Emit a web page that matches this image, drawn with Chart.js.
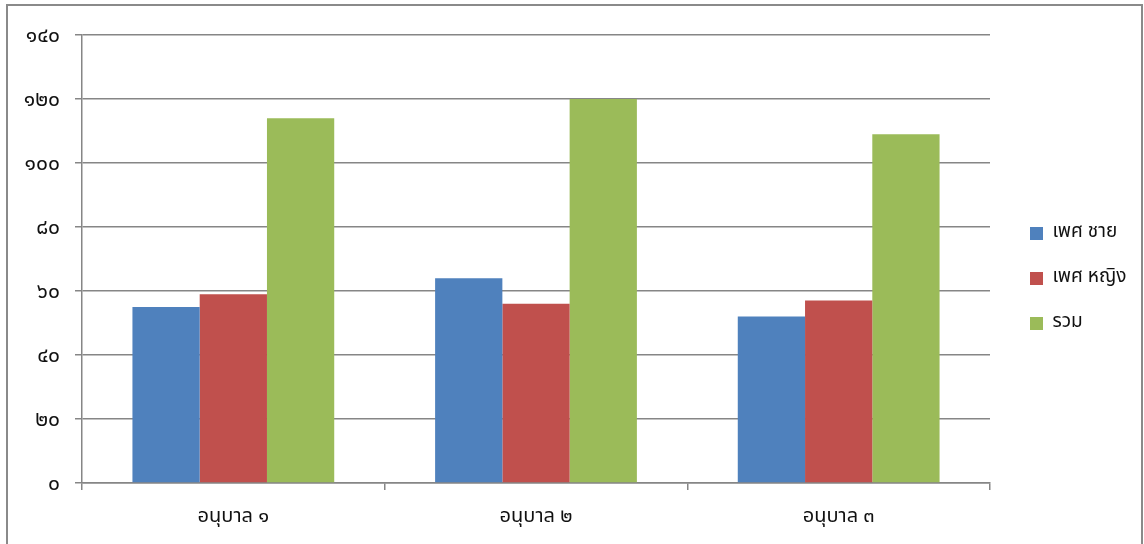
<!DOCTYPE html>
<html>
<head>
<meta charset="utf-8">
<script src="https://cdn.jsdelivr.net/npm/chart.js@4.4.0/dist/chart.umd.min.js"></script>
<style>
  html, body { margin: 0; padding: 0; background: #fff; overflow: hidden; }
  #frame {
    position: absolute; left: 6px; top: 4px; width: 1133px; height: 600px;
    border: 2px solid #8a8a8a;
  }
  #wrap { position: absolute; left: 0; top: 0; width: 1144px; height: 544px; }
</style>
</head>
<body>
<div id="frame"></div>
<div id="wrap"><canvas id="chart"></canvas></div>
<script>
// data
const categories = ['อนุบาล ๑', 'อนุบาล ๒', 'อนุบาล ๓'];
const seriesNames = ['เพศ ชาย', 'เพศ หญิง', 'รวม'];
const maleValues = [55, 64, 52];
const femaleValues = [59, 56, 57];
const totalValues = [114, 120, 109];
const yTickLabels = ['๐', '๒๐', '๔๐', '๖๐', '๘๐', '๑๐๐', '๑๒๐', '๑๔๐'];

const fontFamily = "'Noto Sans Thai', 'Noto Sans', 'DejaVu Sans', sans-serif";

// fixed legend width so the plot ends at the same x, then nudge the legend box
const legendPlace = {
    id: 'legendPlace',
    beforeInit(chart) {
        const fit = chart.legend.fit;
        chart.legend.fit = function() {
            fit.bind(chart.legend)();
            this.width = 154;
        };
    },
    afterLayout(chart) {
        const lg = chart.legend;
        lg.left += 14; lg.right += 14;
        lg.top -= 11; lg.bottom -= 11;
    }
};

document.addEventListener('DOMContentLoaded', function() {
    const ctx = document.getElementById('chart').getContext('2d');
    const chart = new Chart(ctx, {
        type: 'bar',
        data: {
            labels: categories,
            datasets: [
                { label: seriesNames[0], data: maleValues, backgroundColor: '#4F81BD' },
                { label: seriesNames[1], data: femaleValues, backgroundColor: '#C0504D' },
                { label: seriesNames[2], data: totalValues, backgroundColor: '#9BBB59' }
            ]
        },
        options: {
            responsive: true,
            maintainAspectRatio: false,
            animation: false,
            categoryPercentage: 0.6667,
            barPercentage: 1.0,
            layout: { padding: { top: 35, left: 0, right: 0, bottom: 0 } },
            plugins: {
                tooltip: { enabled: false },
                legend: {
                    position: 'right',
                    align: 'center',
                    labels: {
                        boxWidth: 13,
                        boxHeight: 13,
                        padding: 26,
                        color: '#111',
                        font: { family: fontFamily, size: 19 }
                    }
                }
            },
            scales: {
                x: {
                    grid: {
                        drawOnChartArea: false,
                        drawTicks: true,
                        tickLength: 7,
                        color: '#868686',
                        lineWidth: 1.5
                    },
                    border: { display: true, color: '#868686', width: 1.5 },
                    ticks: {
                        color: '#111',
                        padding: 16,
                        font: { family: fontFamily, size: 20 }
                    },
                    afterFit(scale) { scale.height = 61; }
                },
                y: {
                    min: 0,
                    max: 140,
                    grid: {
                        color: '#868686',
                        lineWidth: 1.5,
                        drawTicks: true,
                        tickLength: 7
                    },
                    border: { display: true, color: '#868686', width: 1.5 },
                    ticks: {
                        stepSize: 20,
                        color: '#111',
                        padding: 15,
                        labelOffset: 3,
                        font: { family: fontFamily, size: 21 },
                        callback: function(value) {
                            return yTickLabels[Math.round(value / 20)];
                        }
                    },
                    afterFit(scale) { scale.width = 82; }
                }
            }
        },
        plugins: [legendPlace]
    });
});
</script>
</body>
</html>
